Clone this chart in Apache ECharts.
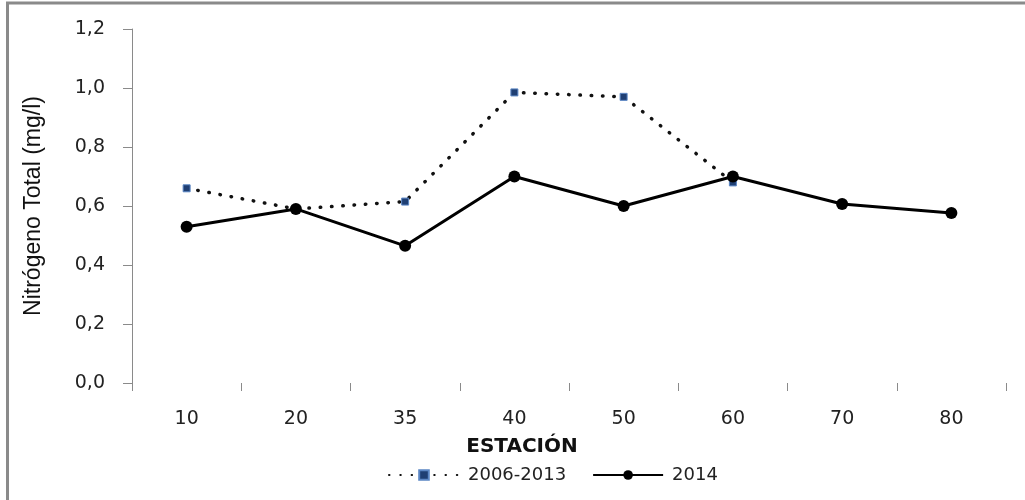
<!DOCTYPE html>
<html>
<head>
<meta charset="utf-8">
<script src="https://cdn.jsdelivr.net/npm/echarts@6/dist/echarts.min.js"></script>
<style>
  html, body { margin: 0; padding: 0; background: #fff; }
  #chart { width: 1025px; height: 500px; }
</style>
</head>
<body>
<div id="chart"></div>
<script>
const estaciones = ['10', '20', '35', '40', '50', '60', '70', '80']
const serie2006_2013 = [0.66, 0.59, 0.615, 0.985, 0.97, 0.68, null, null]
const serie2014 = [0.53, 0.59, 0.465, 0.70, 0.60, 0.70, 0.607, 0.576]
const yTicks = { min: 0, max: 1.2, interval: 0.2 }

const chart = echarts.init(document.getElementById('chart'))

const option = {
  backgroundColor: '#ffffff',
  animation: false,
  graphic: [
    {
      type: 'rect',
      shape: { x: 7.5, y: 3, width: 1040, height: 520 },
      style: { fill: 'none', stroke: '#8a8a8a', lineWidth: 3 },
      silent: true
    }
  ],
  legend: {
    bottom: 11,
    left: 383,
    itemWidth: 70,
    itemHeight: 12,
    itemGap: 26,
    textStyle: {
      fontFamily: 'DejaVu Sans',
      fontSize: 18,
      color: '#222',
      padding: [0, 0, 0, 4]
    },
    data: ['2006-2013', '2014']
  },
  grid: {
    left: 132,
    right: 19,
    top: 29,
    bottom: 117
  },
  xAxis: {
    type: 'category',
    data: estaciones,
    name: 'ESTACIÓN',
    nameLocation: 'middle',
    nameGap: 54,
    nameTextStyle: {
      fontFamily: 'DejaVu Sans',
      fontWeight: 'bold',
      fontSize: 20,
      color: '#111',
      padding: [0, 94, 0, 0]
    },
    axisLine: { show: false },
    axisTick: {
      show: true,
      length: 8,
      lineStyle: { color: '#8a8a8a', width: 1 }
    },
    axisLabel: {
      margin: 27,
      fontFamily: 'DejaVu Sans',
      fontSize: 19,
      color: '#222'
    }
  },
  yAxis: {
    type: 'value',
    min: yTicks.min,
    max: yTicks.max,
    interval: yTicks.interval,
    name: 'Nitrógeno Total (mg/l)',
    nameLocation: 'middle',
    nameGap: 87,
    nameTextStyle: {
      fontFamily: 'Liberation Sans',
      fontSize: 23,
      color: '#111'
    },
    splitLine: { show: false },
    axisLine: {
      show: true,
      lineStyle: { color: '#8a8a8a', width: 1 }
    },
    axisTick: {
      show: true,
      length: 9,
      lineStyle: { color: '#8a8a8a', width: 1 }
    },
    axisLabel: {
      margin: 27,
      fontFamily: 'DejaVu Sans',
      fontSize: 19,
      color: '#222',
      formatter: (v) => v.toFixed(1).replace('.', ',')
    }
  },
  series: [
    {
      name: '2006-2013',
      type: 'line',
      data: serie2006_2013,
      symbol: 'rect',
      symbolSize: 7,
      itemStyle: {
        color: '#1f3f73',
        borderColor: '#5b86c4',
        borderWidth: 1
      },
      lineStyle: {
        color: '#111',
        width: 3.5,
        type: [0.5, 10.8],
        cap: 'round'
      },
      z: 2
    },
    {
      name: '2014',
      type: 'line',
      data: serie2014,
      symbol: 'circle',
      symbolSize: 12,
      itemStyle: { color: '#000' },
      lineStyle: { color: '#000', width: 3 },
      z: 3
    }
  ]
}

chart.setOption(option)
</script>
</body>
</html>
